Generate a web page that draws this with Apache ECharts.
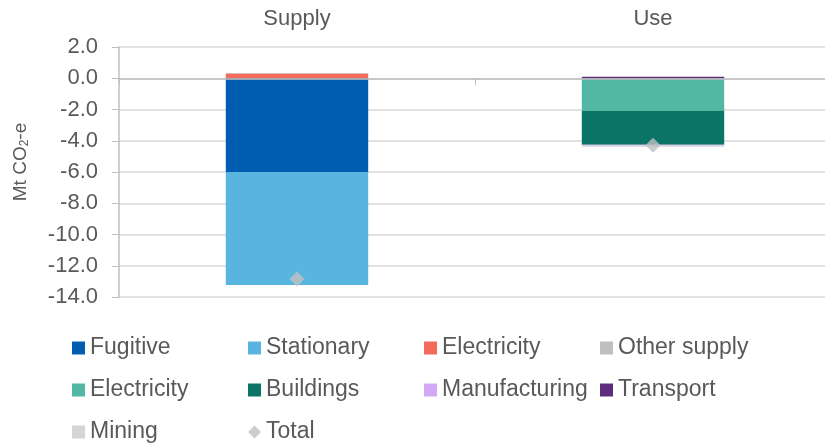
<!DOCTYPE html>
<html>
<head>
<meta charset="utf-8">
<script src="https://cdn.jsdelivr.net/npm/echarts@6/dist/echarts.min.js"></script>
<style>
html,body{margin:0;padding:0;background:#fff;}
#chart{width:825px;height:448px;}
</style>
</head>
<body>
<div id="chart"></div>
<script>
const categories = ['Supply', 'Use'];
const yTicks = [-14, -12, -10, -8, -6, -4, -2, 0, 2];
// Supply-side components (second value is '-' : not on Use)
const fugitive = [-6.0, '-'];
const stationary = [-7.23, '-'];
const electricitySupply = [0.3, '-'];
const otherSupply = [0.04, '-'];
// Use-side components
const electricityUse = ['-', -2.08];
const buildings = ['-', -2.18];
const manufacturing = ['-', -0.05];
const transport = ['-', 0.1];
const mining = ['-', -0.08];
const total = [-12.85, -4.28];

const seriesNames = ['Fugitive', 'Stationary', 'Electricity', 'Other supply',
  'Electricity ', 'Buildings', 'Manufacturing', 'Transport', 'Mining'];
const seriesData = [fugitive, stationary, electricitySupply, otherSupply,
  electricityUse, buildings, manufacturing, transport, mining];
const colors = ['#005EB0', '#5AB4E0', '#F26B5B', '#BDBFC1',
  '#52B7A3', '#0B7466', '#D3A9F5', '#5F2B7E', '#D3D5D8'];

const font = 'Liberation Sans, Arial, sans-serif';
const chart = echarts.init(document.getElementById('chart'), null, {renderer: 'canvas'});

const series = seriesNames.map((n, i) => ({
  name: n,
  type: 'bar',
  stack: 'total',
  barWidth: '40%',
  data: seriesData[i],
  itemStyle: {color: colors[i]},
  emphasis: {disabled: true}
}));
series.push({
  name: 'Total',
  type: 'scatter',
  symbol: 'diamond',
  symbolSize: [15, 15],
  data: total,
  itemStyle: {color: '#BFC1C3'},
  z: 5
});

const legendData = seriesNames.map(n => ({name: n, icon: 'rect'}));
legendData.push({name: 'Total', icon: 'diamond', itemStyle: {color: '#BFC1C3'}});

chart.setOption({
  animation: false,
  color: colors,
  grid: {left: 119, top: 47, width: 712, height: 250, containLabel: false, outerBoundsMode: 'none'},
  xAxis: {
    type: 'category',
    data: categories,
    position: 'top',
    z: 10,
    axisLine: {show: true, onZero: true, lineStyle: {color: '#BFBFBF', width: 1.5}},
    axisTick: {show: true, inside: true, length: 7, lineStyle: {color: '#BFBFBF'}},
    axisLabel: {margin: 17, fontSize: 22, color: '#595959', fontFamily: font},
    splitLine: {show: false}
  },
  yAxis: {
    type: 'value',
    min: -14, max: 2, interval: 2,
    axisLine: {show: true, lineStyle: {color: '#BFBFBF', width: 1.5}},
    axisTick: {show: true, length: 7, lineStyle: {color: '#BFBFBF'}},
    axisLabel: {margin: 21, fontSize: 22, color: '#595959', fontFamily: font,
      formatter: v => v.toFixed(1)},
    splitLine: {show: true, lineStyle: {color: '#D9D9D9', width: 1.5}},
    name: 'Mt CO{sub|2}-e',
    nameLocation: 'middle',
    nameGap: 88,
    nameTextStyle: {fontSize: 19, color: '#595959', fontFamily: font, padding: [0, 0, 0, 20],
      rich: {sub: {fontSize: 12, color: '#595959', fontFamily: font, verticalAlign: 'bottom', padding: [8, 0, 0, 0]}}}
  },
  legend: {
    data: legendData,
    left: 72,
    top: 327,
    width: 720,
    itemWidth: 13,
    itemHeight: 13,
    itemGap: 0,
    padding: 0,
    selectedMode: false,
    formatter: n => n.trim(),
    textStyle: {fontSize: 23, color: '#595959', fontFamily: font, width: 158, lineHeight: 42, overflow: 'none'}
  },
  series: series
});
</script>
</body>
</html>
